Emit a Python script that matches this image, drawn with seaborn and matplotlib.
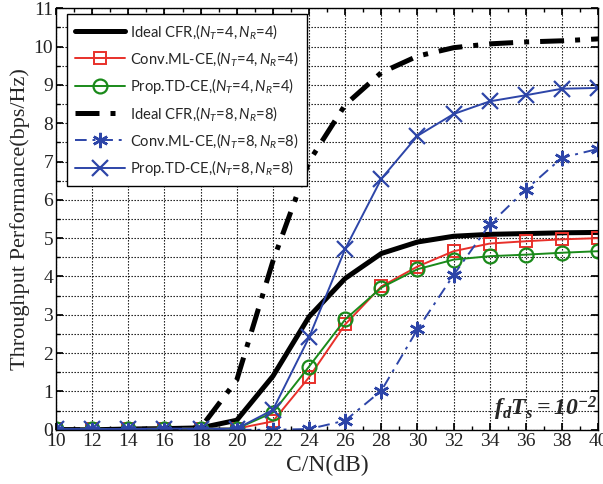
import numpy as np
import pandas as pd
import matplotlib
matplotlib.use("Agg")
import matplotlib.pyplot as plt
import seaborn as sns
from matplotlib.ticker import MultipleLocator

snr = [10, 12, 14, 16, 18, 20, 22, 24, 26, 28, 30, 32, 34, 36, 38, 40]
ideal_4x4 = [0.0, 0.0, 0.02, 0.03, 0.05, 0.25, 1.4, 2.95, 3.95, 4.6, 4.9, 5.05, 5.1, 5.12, 5.14, 5.15]
conv_4x4 = [0.02, 0.02, 0.02, 0.03, 0.03, 0.03, 0.22, 1.37, 2.75, 3.74, 4.26, 4.66, 4.86, 4.92, 4.97, 5.0]
prop_4x4 = [0.02, 0.02, 0.02, 0.03, 0.03, 0.03, 0.45, 1.65, 2.88, 3.71, 4.19, 4.44, 4.53, 4.57, 4.62, 4.66]
ideal_8x8 = [0.0, 0.0, 0.01, 0.02, 0.05, 1.3, 4.4, 7.0, 8.48, 9.32, 9.75, 9.97, 10.07, 10.12, 10.15, 10.2]
conv_8x8 = [0.0, 0.0, 0.0, 0.0, 0.0, 0.0, 0.0, 0.02, 0.24, 1.02, 2.62, 4.04, 5.36, 6.27, 7.1, 7.33]
prop_8x8 = [0.02, 0.02, 0.02, 0.03, 0.03, 0.03, 0.52, 2.41, 4.72, 6.55, 7.67, 8.24, 8.57, 8.73, 8.9, 8.92]

names = ["Ideal CFR", "Conv.ML-CE", "Prop.TD-CE", "Ideal CFR", "Conv.ML-CE", "Prop.TD-CE"]
antennas = [4, 4, 4, 8, 8, 8]
labels = [rf"{n},$\mathit{{(N_T}}$=$\mathit{{{a},N_R}}$=$\mathit{{{a})}}$"
          for n, a in zip(names, antennas)]
series = [ideal_4x4, conv_4x4, prop_4x4, ideal_8x8, conv_8x8, prop_8x8]

sns.set_theme(style="ticks")
plt.rcParams["font.family"] = ["Liberation Serif", "DejaVu Serif"]
plt.rcParams["mathtext.fontset"] = "custom"
plt.rcParams["mathtext.rm"] = "Lato"
plt.rcParams["mathtext.it"] = "Lato:italic"
plt.rcParams["mathtext.bf"] = "Liberation Serif:bold"
plt.rcParams["mathtext.bfit"] = "Liberation Serif:italic:bold"

red = "#e8302a"
green = "#1a8a1a"
blue = "#2d45a8"
styles = [
    dict(color="black", linewidth=3.6, linestyle="-", marker=None),
    dict(color=red, linewidth=1.4, linestyle="-", marker="s", markersize=9,
         markerfacecolor="none", markeredgecolor=red, markeredgewidth=1.4),
    dict(color=green, linewidth=1.4, linestyle="-", marker="o", markersize=10,
         markerfacecolor="none", markeredgecolor=green, markeredgewidth=1.6),
    dict(color="black", linewidth=3.6, linestyle=(0, (4.8, 2.2, 1, 2.2)), marker=None),
    dict(color=blue, linewidth=1.4, linestyle=(0, (6, 3, 1.5, 3)), marker=(6, 2, 0), markersize=11,
         markeredgecolor=blue, markeredgewidth=1.8),
    dict(color=blue, linewidth=1.4, linestyle="-", marker="x", markersize=11,
         markeredgecolor=blue, markeredgewidth=1.6),
]

fig = plt.figure(figsize=(6.03, 4.84), dpi=100)
ax = fig.add_axes([0.093, 0.112, 0.899, 0.871])

for vals, lab, st in zip(series, labels, styles):
    df = pd.DataFrame({"snr": snr, "tp": vals})
    sns.lineplot(data=df, x="snr", y="tp", ax=ax, label=lab, **st)

ax.set_xlim(10, 40)
ax.set_ylim(0, 11)
ax.xaxis.set_major_locator(MultipleLocator(2))
ax.xaxis.set_minor_locator(MultipleLocator(1))
ax.yaxis.set_major_locator(MultipleLocator(1))
ax.yaxis.set_minor_locator(MultipleLocator(0.5))
ax.grid(which="major", axis="both", color="black", linestyle=(0, (1.2, 1.5)), linewidth=0.8)
ax.grid(which="minor", axis="y", color="black", linestyle=(0, (1.2, 1.5)), linewidth=0.8)
ax.set_axisbelow(True)
ax.tick_params(which="both", direction="in", top=True, right=True, labelsize=14, pad=2,
               color="black", labelcolor="#222222")
ax.tick_params(which="major", length=5)
ax.tick_params(which="minor", length=3)
for sp in ax.spines.values():
    sp.set_color("black")
    sp.set_linewidth(1.0)

ax.set_xlabel("C/N(dB)", fontsize=17, labelpad=4)
ax.set_ylabel("Throughput Performance(bps/Hz)", fontsize=16, labelpad=3)

leg = ax.legend(loc="upper left", bbox_to_anchor=(0.0203, 0.986), borderaxespad=0,
                prop={"family": "Lato", "size": 10.6},
                handlelength=3.4, frameon=True, fancybox=False, edgecolor="black",
                borderpad=0.55, labelspacing=0.55, handletextpad=0.35)
leg.get_frame().set_linewidth(1.0)
leg.get_frame().set_alpha(1)

ax.text(39.95, 0.38, r"$\mathbfit{f_d T_s{=}10^{-2}}$", ha="right", va="baseline", fontsize=17)

fig.savefig("out.png", dpi=100)
